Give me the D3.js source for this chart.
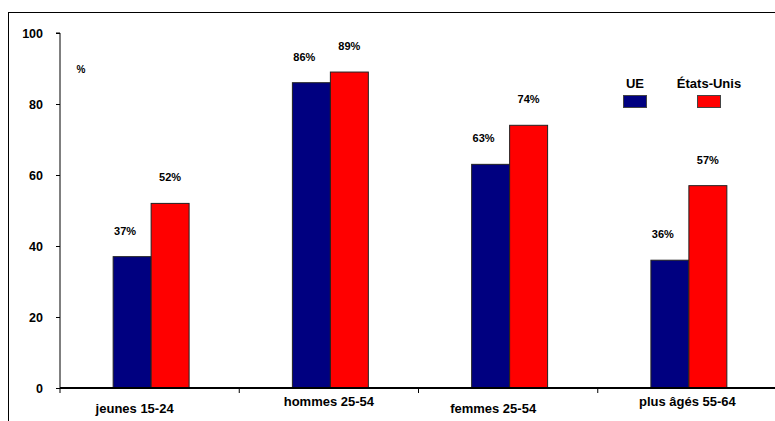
<!DOCTYPE html>
<html>
<head>
<meta charset="utf-8">
<script src="https://cdn.jsdelivr.net/npm/d3@7"></script>
<style>
  body { margin: 0; background: #fff; }
  svg text { font-family: "Liberation Sans", Arial, sans-serif; font-weight: bold; fill: #000; }
  .axis path, .axis line { stroke: #000; }
</style>
</head>
<body>
<svg id="chart" width="775" height="421"></svg>
<script>
const categories = ["jeunes 15-24", "hommes 25-54", "femmes 25-54", "plus âgés 55-64"];
const seriesNames = ["UE", "États-Unis"];
const ueValues = [37, 86, 63, 36];
const usValues = [52, 89, 74, 57];
const yTicks = [0, 20, 40, 60, 80, 100];
const colors = ["#000080", "#ff0000"];

const svg = d3.select("#chart");
const margin = { left: 60, top: 33, right: -2, bottom: 33 };
const width = 775, height = 421;

// outer frame (left + top edges visible)
svg.append("rect")
    .attr("x", 8.5).attr("y", 12.5)
    .attr("width", 800).attr("height", 500)
    .attr("fill", "none").attr("stroke", "#000").attr("stroke-width", 1);

const x = d3.scaleBand().domain(categories)
    .range([margin.left, width - margin.right]).paddingInner(0).paddingOuter(0);
const xInner = d3.scaleBand().domain(seriesNames)
    .range([0, x.bandwidth()]).paddingInner(0).paddingOuter(1.36);
const y = d3.scaleLinear().domain([0, 100]).range([height - margin.bottom, margin.top]);

const data = categories.map((c, i) => ({ cat: c, vals: [ueValues[i], usValues[i]] }));

// bars
const groups = svg.selectAll(".grp").data(data).enter().append("g")
    .attr("class", "grp")
    .attr("transform", d => `translate(${x(d.cat) + 1.5},0)`);

groups.selectAll("rect").data(d => d.vals.map((v, j) => ({ v, s: seriesNames[j], j })))
    .enter().append("rect")
    .attr("x", d => xInner(d.s))
    .attr("y", d => y(d.v))
    .attr("width", xInner.bandwidth())
    .attr("height", d => y(0) - y(d.v))
    .attr("fill", d => colors[d.j])
    .attr("stroke", "#222").attr("stroke-width", 1);

groups.selectAll(".lbl").data(d => d.vals.map((v, j) => ({ v, s: seriesNames[j], j })))
    .enter().append("text")
    .attr("class", "lbl")
    .attr("x", d => xInner(d.s) + xInner.bandwidth() / 2 + (d.j === 0 ? -7 : 0))
    .attr("y", d => y(d.v) - 22)
    .attr("text-anchor", "middle")
    .style("font-size", "11px")
    .text(d => d.v + "%");

// y axis
const yAxis = d3.axisLeft(y).tickValues(yTicks).tickSize(4).tickPadding(13);
const gy = svg.append("g").attr("class", "axis").attr("transform", `translate(${margin.left},0)`).call(yAxis);
gy.select(".domain").attr("d", `M-4,${y(100)}H0V${y(0)}`);
gy.selectAll("text").style("font-size", "12.5px");

// x axis
const gx = svg.append("g").attr("class", "axis")
    .attr("transform", `translate(0,${y(0)})`);
gx.append("line").attr("x1", margin.left).attr("x2", width)
    .attr("y1", 0).attr("y2", 0).attr("stroke", "#808080").attr("stroke-width", 2);
gx.selectAll(".tk").data(categories).enter().append("line")
    .attr("x1", d => x(d)).attr("x2", d => x(d))
    .attr("y1", 0).attr("y2", 5).attr("stroke", "#000");
gx.selectAll(".cl").data(categories).enter().append("text")
    .attr("x", (d, i) => x(d) + x.bandwidth() / 2 - (i % 2 === 0 ? 15 : 0))
    .attr("y", (d, i) => i % 2 === 0 ? 25 : 18)
    .attr("text-anchor", "middle")
    .style("font-size", "13px")
    .text(d => d);

// unit
svg.append("text").attr("x", 81).attr("y", 73).attr("text-anchor", "middle")
    .style("font-size", "10px").text("%");

// legend
const legend = svg.append("g");
const legX = [635, 709];
seriesNames.forEach((s, i) => {
  legend.append("text").attr("x", legX[i]).attr("y", 88)
      .attr("text-anchor", "middle").style("font-size", "13px").text(s);
  legend.append("rect").attr("x", legX[i] - 11.5).attr("y", 95.5)
      .attr("width", 23).attr("height", 12)
      .attr("fill", colors[i]).attr("stroke", "#444").attr("stroke-width", 1);
});
</script>
</body>
</html>
